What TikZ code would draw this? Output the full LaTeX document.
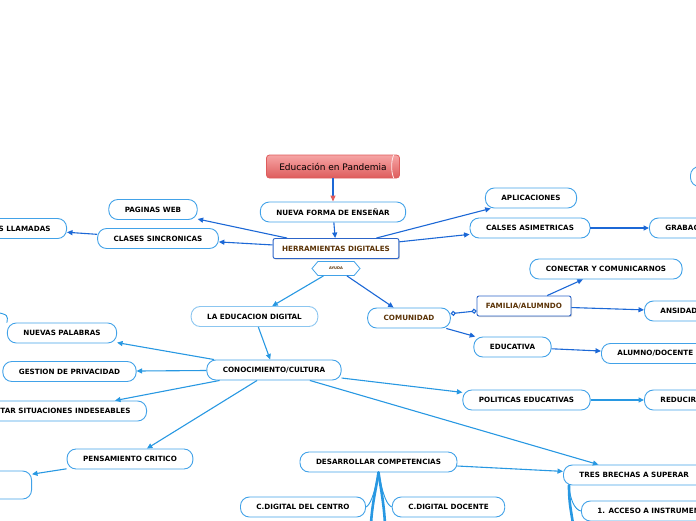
\documentclass[tikz,border=0pt]{standalone}
\usepackage{fontspec}
\setmainfont{DejaVu Sans}
\usepackage{tikz}
\usetikzlibrary{arrows.meta, positioning, calc, shapes.symbols, shadows}

\definecolor{linedark}{RGB}{28,104,214}
\definecolor{linelight}{RGB}{40,152,226}
\definecolor{boxline}{RGB}{66,162,232}
\definecolor{boxpale}{RGB}{140,198,240}
\definecolor{herrline}{RGB}{44,100,200}
\definecolor{txtbrown}{RGB}{92,52,8}
\definecolor{titletop}{RGB}{246,165,165}
\definecolor{titlebot}{RGB}{222,92,92}

\begin{document}
\begin{tikzpicture}[x=1pt, y=-1pt,
    topic/.style={draw=boxline, line width=0.9pt, fill=white, rounded corners=9pt,
        minimum height=20pt, inner xsep=16pt, inner ysep=0pt,
        font=\fontsize{7.2}{8}\selectfont\bfseries},
    keybox/.style={topic, draw=herrline, rounded corners=2pt, inner xsep=9pt,
        text=txtbrown, drop shadow={shadow xshift=1pt, shadow yshift=-1.2pt, opacity=0.35}},
    tagbox/.style={draw=boxline, line width=0.8pt, fill=white, shape=signal,
        signal to=east and west, signal pointer angle=100, minimum width=48pt,
        minimum height=14pt, inner sep=0.5pt, text=txtbrown,
        font=\fontsize{3.6}{4}\selectfont\bfseries},
    mainbox/.style={draw=titlebot, line width=0.8pt, top color=titletop, bottom color=titlebot,
        rounded corners=3pt, minimum width=133pt, minimum height=23pt,
        font=\fontsize{9}{10}\selectfont},
    link/.style={draw=linedark, line width=1.1pt, -{Triangle[length=5.5pt, width=5pt]}},
    linkl/.style={link, draw=linelight},
    trunk/.style={draw=linelight, line width=2.6pt, line cap=round},
    twig/.style={draw=linelight, line width=0.9pt}]
\useasboundingbox (0,0) rectangle (696,520);
\clip (0,0) rectangle (696,520);

% Central topic
\node[mainbox] (tema) at (333,166.5) {Educación en Pandemia};
\draw[white!75!titletop, line width=0.8pt] ([xshift=-6pt]tema.north east)
    .. controls +(-3,6) and +(-3,-6) .. ([xshift=-6pt]tema.south east);
\node[topic] (nueva) at (333,212) {NUEVA FORMA DE ENSEÑAR};
\node[keybox] (herr) at (336,248.5) {HERRAMIENTAS DIGITALES};
\node[tagbox] (ayuda) at (336,268.5) {AYUDA};

% Left branches
\node[topic] (web) at (153,209.5) {PAGINAS WEB};
\node[topic] (sincro) at (158,238.5) {CLASES SINCRONICAS};
\node[topic, anchor=east] (llamadas) at (67,228.5) {VIDEOS LLAMADAS};

% Right branches
\node[topic] (apps) at (531,198) {APLICACIONES};
\node[topic] (asinc) at (530,228) {CALSES ASIMETRICAS};
\node[topic, anchor=west] (grab) at (649,228) {GRABACIONES};
\node[topic, anchor=west, minimum width=60pt] (extra) at (690,176.5) {};
\node[topic] (conectar) at (606,269) {CONECTAR Y COMUNICARNOS};
\node[keybox] (familia) at (524,306) {FAMILIA/ALUMNDO};
\node[topic, anchor=west] (ansiedad) at (644,311) {ANSIDAD};
\node[topic, text=txtbrown] (comunidad) at (409,318) {COMUNIDAD};
\node[topic] (educativa) at (512.5,347) {EDUCATIVA};
\node[topic, anchor=west] (alumno) at (601,353.5) {ALUMNO/DOCENTE};

% Conocimiento / cultura
\node[topic, draw=boxpale] (edudig) at (254.5,316.5) {LA EDUCACION DIGITAL};
\node[topic] (cultura) at (274,370) {CONOCIMIENTO/CULTURA};
\node[topic] (palabras) at (62,333) {NUEVAS PALABRAS};
\node[topic] (privacidad) at (69.5,371.5) {GESTION DE PRIVACIDAD};
\node[topic, anchor=east] (evitar) at (147,411) {EVITAR SITUACIONES INDESEABLES};
\node[topic] (critico) at (130,459) {PENSAMIENTO CRITICO};
\node[topic, anchor=east, minimum width=80pt, minimum height=28pt] (vacio) at (32,485) {};
\node[topic] (politicas) at (526.5,400) {POLITICAS EDUCATIVAS};
\node[topic, anchor=west] (reducir) at (644,400) {REDUCIR};
\node[topic] (competencias) at (378.5,462) {DESARROLLAR COMPETENCIAS};
\node[topic, anchor=west] (brechas) at (563,475) {TRES BRECHAS A SUPERAR};
\node[topic] (centro) at (303,507) {C.DIGITAL DEL CENTRO};
\node[topic] (docente) at (448.5,507) {C.DIGITAL DOCENTE};
\node[topic, anchor=west] (acceso) at (581,511) {1. ACCESO A INSTRUMENTOS};

% free ends
\coordinate (borde) at (-4,312);
\coordinate (pieA) at (371,524);
\coordinate (pieB) at (385,524);
\coordinate (pieC) at (573,524);

% Connectors
\draw[link, -{Triangle[length=6pt, width=5pt, color=titlebot]}] (tema) -- (nueva);
\draw[link] (nueva) -- (herr);
\draw[link] (herr) -- (web);
\draw[link] (herr) -- (sincro);
\draw[link] (sincro) -- (llamadas);
\draw[link] (herr) -- (apps);
\draw[link] (herr) -- (asinc);
\draw[link] (asinc) -- (grab);
\draw[linkl] (ayuda) -- (edudig);
\draw[link] (ayuda) -- (comunidad);
\draw[link, {Circle[open, length=5pt, width=5pt]}-{Circle[open, length=5pt, width=5pt]}] (comunidad) -- (familia);
\draw[link] (familia) -- (conectar);
\draw[link] (familia) -- (ansiedad);
\draw[link] (comunidad) -- (educativa);
\draw[link] (educativa) -- (alumno);
\draw[linkl] (edudig) -- (cultura);
\draw[linkl] (cultura) -- (palabras);
\draw[linkl] (cultura) -- (privacidad);
\draw[linkl] (cultura) -- ([xshift=-32pt]evitar.north east);
\draw[linkl] (cultura) -- (critico);
\draw[linkl] (critico) -- (vacio.15);
\draw[linkl] (cultura) -- (politicas);
\draw[linkl] (politicas) -- (reducir);
\draw[linkl] (cultura) -- (brechas);
\draw[linkl] (competencias) -- (brechas);
\draw[twig] (borde) .. controls (8,315) .. (palabras.north west);

% Tree trunks
\draw[trunk] (competencias.south) .. controls +(-2,14) and +(1,-20) .. (pieA);
\draw[trunk] (competencias.south) .. controls +(2,14) and +(-1,-20) .. (pieB);
\draw[twig] (competencias.south) .. controls (374,496) and (370,505) .. (centro.east);
\draw[twig] (competencias.south) .. controls (383,496) and (387,505) .. (docente.west);
\draw[trunk] ([xshift=6pt]brechas.south west) .. controls +(0,18) and +(-2,-14) .. (pieC);
\draw[twig] ([xshift=6pt]brechas.south west) .. controls (570,500) and (575,510) .. (acceso.west);
\end{tikzpicture}
\end{document}
